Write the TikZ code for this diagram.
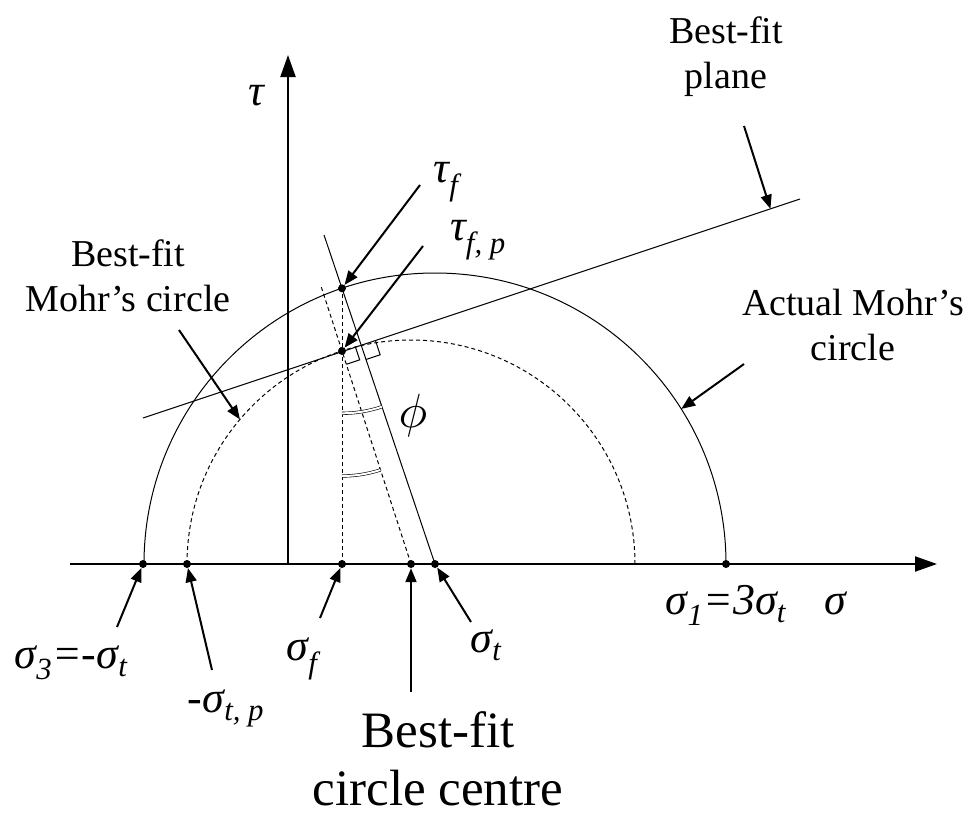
\documentclass[tikz,border=0pt]{standalone}
\usepackage{fontspec}
\setmainfont{Liberation Serif}
\usepackage{tikz}
\usetikzlibrary{arrows.meta, calc}

\newcommand{\lblfont}{\fontsize{38}{45}\selectfont}
\newcommand{\grkfont}{\fontsize{44}{50}\selectfont\itshape}
\newcommand{\bigfont}{\fontsize{51}{58}\selectfont}

\begin{document}
\begin{tikzpicture}[
    x=1pt, y=1pt,
    dot/.style={circle, fill=black, inner sep=0pt, minimum size=8pt},
    lbl/.style={align=center, inner sep=0pt, font=\lblfont},
    grk/.style={inner sep=0pt, anchor=base, font=\grkfont},
    axis/.style={-{Triangle[length=22pt, width=15pt]}, line width=2pt},
    pointer/.style={-{Triangle[length=14pt, width=11pt]}, line width=2pt},
    thinline/.style={line width=1pt},
    dashline/.style={line width=1pt, dash pattern=on 4pt off 3pt},
    angmark/.style={double, line width=0.6pt, double distance=2pt}
]
\useasboundingbox (0,0) rectangle (971,-819);

% axes
\coordinate (xs) at (70,-564);
\coordinate (xe) at (937,-564);
\coordinate (ys) at (288,-564);
\coordinate (ye) at (288,-55);
\draw[axis] (xs) -- (xe);
\draw[axis] (ys) -- (ye);

% points on the sigma axis
\node[dot] (s3) at (143,-564) {};
\node[dot] (mtp) at (187,-564) {};
\node[dot] (sf) at (342,-564) {};
\node[dot] (bc) at (411,-564) {};
\node[dot] (st) at (435,-564) {};
\node[dot] (s1) at (726,-564) {};

% points on the circles
\node[dot] (tf) at (342,-288.3) {};
\node[dot] (tfp) at (342,-351) {};

% circles
\draw[thinline] (s1.center) arc[start angle=0, end angle=180, radius=291];
\draw[dashline] (mtp.center) arc[start angle=180, end angle=0, radius=224];

% best-fit plane and construction lines
\coordinate (pl) at (143,-418);
\coordinate (pr) at (800,-199);
\coordinate (tfe) at (324,-235);
\coordinate (tfpe) at (321.3,-287);
\draw[thinline] (pl) -- (pr);
\draw[thinline] (st.center) -- (tfe);
\draw[dashline] (bc.center) -- (tfpe);
\draw[dashline] (sf.center) -- (tf.center);

% right angles
\coordinate (q) at (intersection of pl--pr and st--tfe);
\draw[thinline, shift={(tfp.center)}, rotate=18.4] (14,0) -- (14,-14) -- (0,-14);
\draw[thinline, shift={(q)}, rotate=18.4] (15,0) -- (15,-15) -- (0,-15);

% equal angles
\draw[angmark] (tf.center) ++(0,-125) arc[start angle=270, end angle=288.6, radius=125];
\draw[angmark] (tfp.center) ++(0,-125) arc[start angle=270, end angle=287.9, radius=125];
\node[scale=4.8, inner sep=0pt] (lphi) at (413,-415) {$\phi$};

% labels
\node[grk] (ltau) at (256,-105) {τ};
\node[grk] (lsig) at (835,-614) {σ};
\node[grk] (l1) at (726,-614) {σ\textsubscript{1}=3σ\textsubscript{t}};
\node[grk] (l3) at (71,-668) {σ\textsubscript{3}=-σ\textsubscript{t}};
\node[grk] (ltp) at (226,-712) {-σ\textsubscript{t, p}};
\node[grk] (lf) at (302,-660) {σ\textsubscript{f}};
\node[grk] (lt) at (486,-652) {σ\textsubscript{t}};
\node[grk] (ltf) at (446,-182) {τ\textsubscript{f}};
\node[grk] (ltfp) at (478,-240) {τ\textsubscript{f, p}};
\node[lbl] (bfp) at (726,-57) {Best-fit\\plane};
\node[lbl] (bfm) at (128,-276) {Best-fit\\Mohr’s circle};
\node[lbl] (amc) at (853,-325) {Actual Mohr’s\\circle};
\node[align=center, inner sep=0pt, font=\bigfont] (bcc) at (438,-759) {Best-fit\\circle centre};

% pointers
\coordinate (a3) at (117,-627);
\coordinate (atp) at (212,-670);
\coordinate (af) at (320,-618);
\coordinate (abc) at (411,-692);
\coordinate (at) at (471,-622);
\coordinate (atf) at (420,-185);
\coordinate (atfp) at (423,-246);
\coordinate (abfm) at (179,-330);
\coordinate (abfmt) at ($(bc)+(139.8:224)$);
\coordinate (aamc) at (744,-364);
\coordinate (aamct) at ($(st)+(32.2:291)$);
\coordinate (abfp) at (744,-126);
\coordinate (abfpt) at ($(pl)!0.955!(pr)$);
\draw[pointer] (a3) -- (s3);
\draw[pointer] (atp) -- (mtp);
\draw[pointer] (af) -- (sf);
\draw[pointer] (abc) -- (bc);
\draw[pointer] (at) -- (st);
\draw[pointer] (atf) -- (tf);
\draw[pointer] (atfp) -- (tfp);
\draw[pointer] (abfm) -- (abfmt);
\draw[pointer] (aamc) -- (aamct);
\draw[pointer] (abfp) -- (abfpt);
\end{tikzpicture}
\end{document}
